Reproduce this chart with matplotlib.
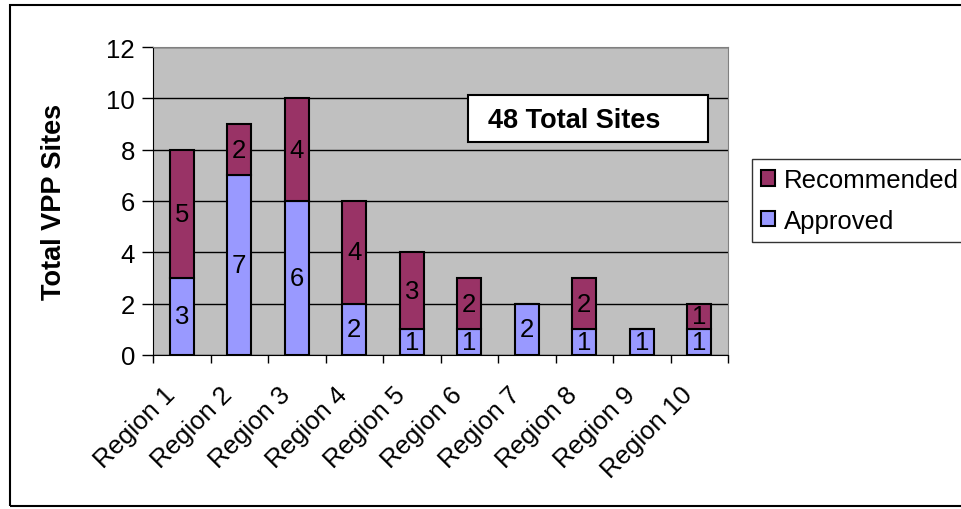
import numpy as np
import matplotlib
matplotlib.use("Agg")
import matplotlib.pyplot as plt
import matplotlib.transforms as mtrans
from matplotlib.patches import Rectangle

plt.rcParams["font.family"] = ["Liberation Sans", "DejaVu Sans"]

# --- data
regions = ["Region 1", "Region 2", "Region 3", "Region 4", "Region 5",
           "Region 6", "Region 7", "Region 8", "Region 9", "Region 10"]
approved = [3, 7, 6, 2, 1, 1, 2, 1, 1, 1]
recommended = [5, 2, 4, 4, 3, 2, 0, 2, 0, 1]
total_note = "48 Total Sites"

c_appr = "#9999FF"
c_rec = "#993366"
fs = 18.5

fig = plt.figure(figsize=(9.61, 5.10), dpi=100)
W, H = 961, 510
ax = fig.add_axes([153 / W, 1 - 356 / H, (728 - 153) / W, (356 - 48) / H])
ax.set_facecolor("#C0C0C0")

x = np.arange(len(regions)) + 0.5
bw = 0.42
ax.bar(x, approved, bw, color=c_appr, edgecolor="black", linewidth=1.5, zorder=3, label="Approved")
ax.bar(x, recommended, bw, bottom=approved, color=c_rec, edgecolor="black",
       linewidth=1.5, zorder=3, label="Recommended")

# labels in the middle of each segment
for i in range(len(regions)):
    if approved[i] > 0:
        ax.text(x[i], approved[i] / 2, str(approved[i]), ha="center", va="center",
                fontsize=fs, zorder=4)
    if recommended[i] > 0:
        ax.text(x[i], approved[i] + recommended[i] / 2, str(recommended[i]),
                ha="center", va="center", fontsize=fs, zorder=4)

ax.set_xlim(0, len(regions))
ax.set_ylim(0, 12)
ax.set_yticks(range(0, 13, 2))
ax.tick_params(axis="y", labelsize=fs, direction="out", length=8, width=1, pad=5)
ax.yaxis.grid(True, color="black", linewidth=1)
ax.set_axisbelow(True)

ax.set_xticks(range(0, len(regions) + 1))
ax.set_xticklabels([])
ax.set_xticks(x, minor=True)
ax.set_xticklabels(regions, minor=True, rotation=45, ha="right", va="top",
                   rotation_mode="anchor", fontsize=fs)
ax.tick_params(axis="x", which="major", direction="out", length=6, width=1)
ax.tick_params(axis="x", which="minor", length=0, pad=0)
shift = mtrans.ScaledTranslation(-0.19, -0.27, fig.dpi_scale_trans)
for lab in ax.get_xticklabels(minor=True):
    lab.set_transform(lab.get_transform() + shift)

for s in ["top", "right"]:
    ax.spines[s].set_color("#808080")
ax.spines["left"].set_color("black")
ax.spines["bottom"].set_color("black")

ax.set_ylabel("Total VPP Sites", fontsize=19.5, fontweight="bold", labelpad=28)

# total box
fig.patches.append(Rectangle((468 / W, 1 - 143 / H), 240 / W, 47 / H, transform=fig.transFigure,
                             facecolor="white", edgecolor="black", linewidth=1.5, zorder=5))
fig.text(574 / W, 1 - 121 / H, total_note, fontsize=19.5, fontweight="bold",
         ha="center", va="center", zorder=6)

handles, labels = ax.get_legend_handles_labels()
leg = fig.legend(handles[::-1], labels[::-1], loc="upper left",
                 bbox_to_anchor=(752 / W, 1 - 160 / H), fontsize=fs, frameon=True,
                 fancybox=False, edgecolor="black", handlelength=0.55, handleheight=0.55,
                 handletextpad=0.35, labelspacing=0.65, borderpad=0.35, borderaxespad=0)
leg.get_frame().set_linewidth(1.0)

# outer chart border
fig.patches.append(Rectangle((10 / W, 1 - 507 / H), 1.0, 501 / H, transform=fig.transFigure,
                             fill=False, edgecolor="black", linewidth=1.5))

fig.savefig("out.png", dpi=100)
